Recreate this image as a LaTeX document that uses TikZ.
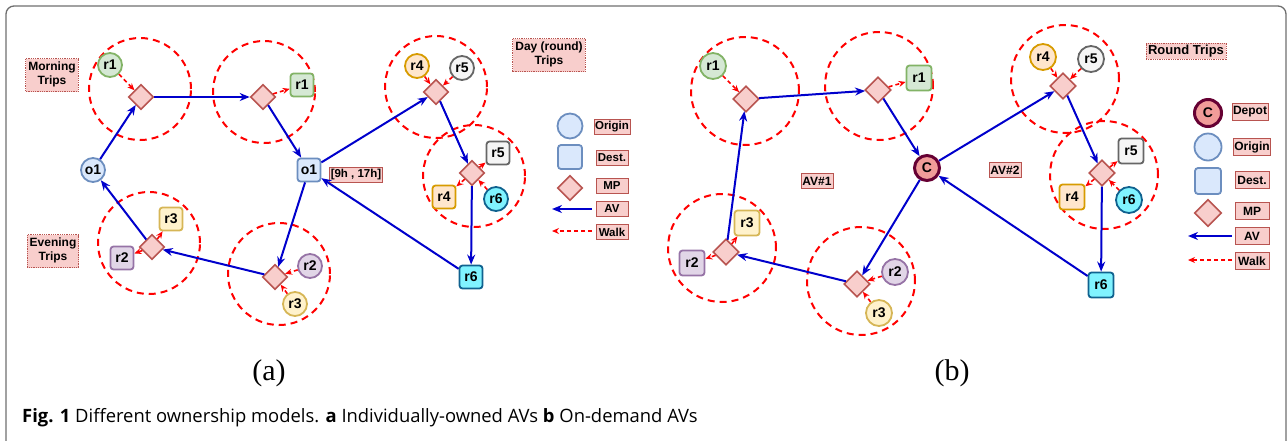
\documentclass[tikz,border=0pt]{standalone}
\usepackage{fontspec}
\setmainfont{Liberation Sans}
\newfontfamily\capfont{Open Sans}
\newfontfamily\panelfont{Liberation Serif}
\usetikzlibrary{shapes.geometric,arrows.meta}
\definecolor{mpfill}{HTML}{F8CECC}
\definecolor{mpline}{HTML}{B85450}
\definecolor{grnfill}{HTML}{D5E8D4}
\definecolor{grnline}{HTML}{82B366}
\definecolor{orgfill}{HTML}{FFE6CC}
\definecolor{orgline}{HTML}{D79B00}
\definecolor{gryfill}{HTML}{F5F5F5}
\definecolor{gryline}{HTML}{666666}
\definecolor{purfill}{HTML}{E1D5E7}
\definecolor{purline}{HTML}{9673A6}
\definecolor{ylwfill}{HTML}{FFF2CC}
\definecolor{ylwline}{HTML}{D6B656}
\definecolor{cyfill}{HTML}{80F3FF}
\definecolor{cyline}{HTML}{10628F}
\definecolor{blufill}{HTML}{DAE8FC}
\definecolor{bluline}{HTML}{6C8EBF}
\definecolor{depfill}{HTML}{F19C99}
\definecolor{depline}{HTML}{660033}
\definecolor{avblue}{HTML}{0000CC}
\definecolor{framegray}{HTML}{6E6E6E}
\tikzset{
	req/.style={draw,line width=1.8pt,inner sep=0pt,font=\bfseries\fontsize{14}{16}\selectfont},
	reqc/.style={req,circle,minimum size=24pt},
	reqs/.style={req,rectangle,rounded corners=3pt,minimum size=23pt},
	mp/.style={diamond,draw=mpline,fill=mpfill,line width=1.6pt,minimum width=25pt,minimum height=25pt,inner sep=0pt},
	depot/.style={circle,draw=depline,fill=depfill,line width=3pt,minimum size=25pt,inner sep=0pt,font=\bfseries\fontsize{14}{16}\selectfont},
	zone/.style={draw=red,line width=2pt,dash pattern=on 7pt off 5pt},
	av/.style={draw=avblue,line width=2pt,-{Stealth[length=10pt,width=8pt]}},
	walk/.style={draw=red,line width=1.6pt,dash pattern=on 4pt off 3pt,-{Stealth[length=7pt,width=6pt]}},
	tripbox/.style={draw=mpline,fill=mpfill,densely dotted,line width=0.8pt,inner sep=2.5pt,font=\bfseries\fontsize{12}{14}\selectfont},
	legbox/.style={draw=mpline,fill=mpfill,line width=0.8pt,minimum width=32pt,minimum height=15pt,inner sep=1pt,font=\bfseries\fontsize{11.5}{13}\selectfont},
	grn/.style={draw=grnline,fill=grnfill},
	org/.style={draw=orgline,fill=orgfill},
	gry/.style={draw=gryline,fill=gryfill},
	pur/.style={draw=purline,fill=purfill},
	ylw/.style={draw=ylwline,fill=ylwfill},
	cya/.style={draw=cyline,fill=cyfill},
	blu/.style={draw=bluline,fill=blufill}
}
\begin{document}
\begin{tikzpicture}[x=1pt,y=-1pt]
	\useasboundingbox (0,0) rectangle (1288,440);
	\draw[draw=framegray,line width=1.3pt,rounded corners=8pt] (6,6) rectangle (1286,490);
	
	\node[tripbox] (morning) at (52,75){\begin{tabular}{@{}c@{}}Morning\\Trips\end{tabular}};
	\node[tripbox] (evening) at (53,251){\begin{tabular}{@{}c@{}}Evening\\Trips\end{tabular}};
	\node[tripbox] (dayround) at (549,55){\begin{tabular}{@{}c@{}}Day (round)\\Trips\end{tabular}};
	
	\draw[zone] (140,89) circle[radius=51pt];
	\draw[zone] (264,92) circle[radius=51pt];
	\draw[zone] (436,87) circle[radius=51pt];
	\draw[zone] (474,176) circle[radius=51pt];
	\draw[zone] (149,243) circle[radius=51pt];
	\draw[zone] (279,274) circle[radius=51pt];
	
	\node[mp] (amp1) at (141,97){};
	\node[mp] (amp2) at (263,97){};
	\node[mp] (amp3) at (436,92){};
	\node[mp] (amp4) at (472,173){};
	\node[mp] (amp5) at (152,247){};
	\node[mp] (amp6) at (275,277){};
	
	\node[reqc,blu] (ao1c) at (93,170){o1};
	\node[reqs,blu] (ao1s) at (309,170){o1};
	\node[legbox] (awindow) at (356,175){[9h , 17h]};
	
	\node[reqc,grn] (ar1c) at (110,65){r1};
	\node[reqs,grn] (ar1s) at (302,85){r1};
	\node[reqc,org] (ar4c) at (417,66){r4};
	\node[reqc,gry] (ar5c) at (462,68){r5};
	\node[reqs,gry] (ar5s) at (498,153){r5};
	\node[reqs,org] (ar4s) at (444,197){r4};
	\node[reqc,cya] (ar6c) at (496,199){r6};
	\node[reqs,cya] (ar6s) at (471,277){r6};
	\node[reqs,ylw] (ar3s) at (171,219){r3};
	\node[reqs,pur] (ar2s) at (122,258){r2};
	\node[reqc,pur] (ar2c) at (310,266){r2};
	\node[reqc,ylw] (ar3c) at (295,304){r3};
	
	\draw[av] (ao1c) -- (amp1);
	\draw[av] (amp1) -- (amp2);
	\draw[av] (amp2) -- (ao1s);
	\draw[av] (ao1s) -- (amp3);
	\draw[av] (amp3) -- (amp4);
	\draw[av] (amp4) -- (ar6s);
	\draw[av] (ar6s) -- (ao1s);
	\draw[av] (ao1s) -- (amp6);
	\draw[av] (amp6) -- (amp5);
	\draw[av] (amp5) -- (ao1c);
	
	\draw[walk] (ar1c) -- (amp1);
	\draw[walk] (amp2) -- (ar1s);
	\draw[walk] (ar4c) -- (amp3);
	\draw[walk] (ar5c) -- (amp3);
	\draw[walk] (amp4) -- (ar5s);
	\draw[walk] (amp4) -- (ar4s);
	\draw[walk] (ar6c) -- (amp4);
	\draw[walk] (ar2c) -- (amp6);
	\draw[walk] (ar3c) -- (amp6);
	\draw[walk] (amp5) -- (ar3s);
	\draw[walk] (amp5) -- (ar2s);
	
	\node[reqc,blu,minimum size=25pt] (aorigin) at (570,126){};
	\node[reqs,blu,minimum size=24pt] (adest) at (570,157){};
	\node[mp] (amp) at (570,188){};
	\coordinate (aavs) at (592,209);
	\coordinate (aave) at (552,209);
	\coordinate (awalks) at (592,231);
	\coordinate (awalke) at (552,231);
	\draw[av] (aavs) -- (aave);
	\draw[walk] (awalks) -- (awalke);
	\node[legbox] (aoriginl) at (612,127){Origin};
	\node[legbox] (adestl) at (612,158){Dest.};
	\node[legbox] (ampl) at (612,186){MP};
	\node[legbox] (aavl) at (612,209){AV};
	\node[legbox] (awalkl) at (612,232){Walk};
	
	\node[tripbox,inner sep=2pt,font=\bfseries\fontsize{13}{15}\selectfont] (roundtrips) at (1186,51){Round Trips};
	\node[legbox,font=\bfseries\fontsize{12}{14}\selectfont] (av1) at (817,181){AV\#1};
	\node[legbox,font=\bfseries\fontsize{12}{14}\selectfont] (av2) at (1005,170){AV\#2};
	
	\draw[zone] (745,91) circle[radius=54pt];
	\draw[zone] (879,86) circle[radius=54pt];
	\draw[zone] (1065,79) circle[radius=54pt];
	\draw[zone] (1104,175) circle[radius=54pt];
	\draw[zone] (722,248) circle[radius=54pt];
	\draw[zone] (861,281) circle[radius=54pt];
	
	\node[mp,minimum width=26pt,minimum height=26pt] (bmp1) at (746,99){};
	\node[mp,minimum width=26pt,minimum height=26pt] (bmp2) at (878,90){};
	\node[mp,minimum width=26pt,minimum height=26pt] (bmp3) at (1063,86){};
	\node[mp,minimum width=26pt,minimum height=26pt] (bmp4) at (1102,173){};
	\node[mp,minimum width=26pt,minimum height=26pt] (bmp5) at (726,252){};
	\node[mp,minimum width=26pt,minimum height=26pt] (bmp6) at (857,284){};
	
	\node[depot] (bdepot) at (927,168){C};
	
	\node[reqc,grn,minimum size=26pt] (br1c) at (713,66){r1};
	\node[reqs,grn,minimum size=25pt] (br1s) at (919,78){r1};
	\node[reqc,org,minimum size=26pt] (br4c) at (1043,57){r4};
	\node[reqc,gry,minimum size=26pt] (br5c) at (1091,59){r5};
	\node[reqs,gry,minimum size=25pt] (br5s) at (1131,151){r5};
	\node[reqs,org,minimum size=25pt] (br4s) at (1072,197){r4};
	\node[reqc,cya,minimum size=26pt] (br6c) at (1129,200){r6};
	\node[reqs,cya,minimum size=25pt] (br6s) at (1101,285){r6};
	\node[reqs,ylw,minimum size=25pt] (br3s) at (747,223){r3};
	\node[reqs,pur,minimum size=25pt] (br2s) at (692,263){r2};
	\node[reqc,pur,minimum size=26pt] (br2c) at (895,272){r2};
	\node[reqc,ylw,minimum size=26pt] (br3c) at (879,313){r3};
	
	\draw[av] (bmp5) -- (bmp1);
	\draw[av] (bmp1) -- (bmp2);
	\draw[av] (bmp2) -- (bdepot);
	\draw[av] (bdepot) -- (bmp3);
	\draw[av] (bmp3) -- (bmp4);
	\draw[av] (bmp4) -- (br6s);
	\draw[av] (br6s) -- (bdepot);
	\draw[av] (bdepot) -- (bmp6);
	\draw[av] (bmp6) -- (bmp5);
	
	\draw[walk] (br1c) -- (bmp1);
	\draw[walk] (bmp2) -- (br1s);
	\draw[walk] (br4c) -- (bmp3);
	\draw[walk] (br5c) -- (bmp3);
	\draw[walk] (bmp4) -- (br5s);
	\draw[walk] (bmp4) -- (br4s);
	\draw[walk] (br6c) -- (bmp4);
	\draw[walk] (br2c) -- (bmp6);
	\draw[walk] (br3c) -- (bmp6);
	\draw[walk] (bmp5) -- (br3s);
	\draw[walk] (bmp5) -- (br2s);
	
	\node[depot,minimum size=27pt] (bdepotk) at (1208,113){C};
	\node[reqc,blu,minimum size=27pt] (borigin) at (1208,147){};
	\node[reqs,blu,minimum size=26pt] (bdest) at (1208,181){};
	\node[mp,minimum width=27pt,minimum height=27pt] (bmp) at (1208,213){};
	\coordinate (bavs) at (1232,236);
	\coordinate (bave) at (1188,236);
	\coordinate (bwalks) at (1232,260);
	\coordinate (bwalke) at (1188,260);
	\draw[av] (bavs) -- (bave);
	\draw[walk] (bwalks) -- (bwalke);
	\node[legbox,minimum width=34pt,minimum height=17pt,font=\bfseries\fontsize{12}{14}\selectfont] (bdepotl) at (1250,112){Depot};
	\node[legbox,minimum width=34pt,minimum height=17pt,font=\bfseries\fontsize{12}{14}\selectfont] (boriginl) at (1252,147){Origin};
	\node[legbox,minimum width=34pt,minimum height=17pt,font=\bfseries\fontsize{12}{14}\selectfont] (bdestl) at (1252,180){Dest.};
	\node[legbox,minimum width=34pt,minimum height=17pt,font=\bfseries\fontsize{12}{14}\selectfont] (bmpl) at (1252,211){MP};
	\node[legbox,minimum width=34pt,minimum height=17pt,font=\bfseries\fontsize{12}{14}\selectfont] (bavl) at (1252,236){AV};
	\node[legbox,minimum width=34pt,minimum height=17pt,font=\bfseries\fontsize{12}{14}\selectfont] (bwalkl) at (1252,261){Walk};
	
	\node[font=\panelfont\fontsize{30}{32}\selectfont] (capa) at (269,373){(a)};
	\node[font=\panelfont\fontsize{30}{32}\selectfont] (capb) at (952,373){(b)};
	\node[anchor=base west,inner sep=0pt,font=\capfont\fontsize{18.4}{20}\selectfont] (caption) at (22,422){\textbf{Fig. 1} Different ownership models. \textbf{a} Individually-owned AVs \textbf{b} On-demand AVs};
\end{tikzpicture}
\end{document}
